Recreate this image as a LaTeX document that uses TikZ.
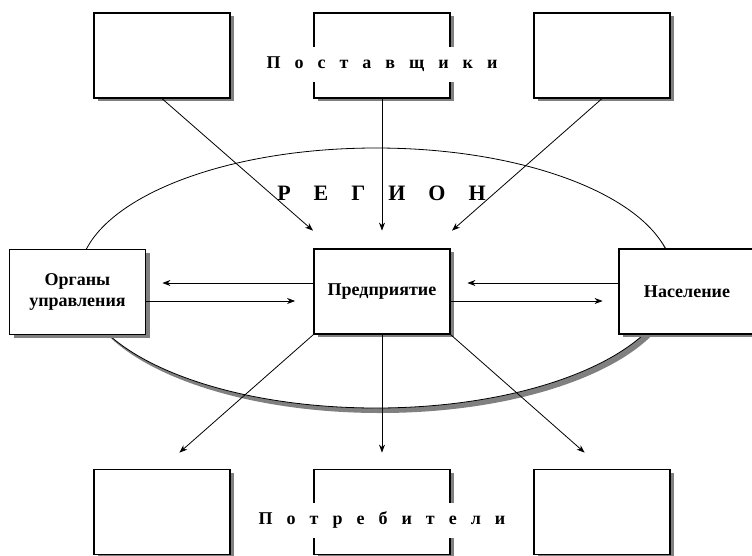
\documentclass[tikz,border=0pt]{standalone}
\usepackage{fontspec}
\setmainfont{Liberation Serif}
\usetikzlibrary{shadows,arrows.meta}

\newcommand{\regionfont}{\fontsize{22}{24}\selectfont\bfseries\spaceskip 23pt\relax}
\newcommand{\rowfont}{\fontsize{18}{20}\selectfont\bfseries\spaceskip 14pt\relax}

\tikzset{
  unitbox/.style={draw, line width=1.2pt, fill=white, minimum width=136pt, minimum height=85pt,
    inner sep=0pt, align=center, font=\fontsize{18}{21}\selectfont\bfseries,
    drop shadow={shadow xshift=4pt, shadow yshift=-3pt, opacity=1, fill=black!50}},
  link/.style={-{Stealth[length=8pt,width=6pt,inset=2.5pt]}, line width=0.8pt},
  spaced/.style={fill=white, inner xsep=3pt, inner ysep=0pt, minimum height=35pt, font=\rowfont}
}

\begin{document}
\begin{tikzpicture}[x=1pt,y=-1pt]
\useasboundingbox (0,0) rectangle (752,555);
% region
\draw[line width=0.8pt, fill=white, drop shadow={shadow xshift=4pt, shadow yshift=-5pt, opacity=1, fill=black!50}]
  (376,278) ellipse [x radius=297pt, y radius=130pt];
\node[font=\regionfont] (reg) at (381.5,193) {Р Е Г И О Н};

% suppliers
\node[unitbox] (sup1) at (162,55.5) {};
\node[unitbox] (sup2) at (382,55.5) {};
\node[unitbox] (sup3) at (602,55.5) {};

% middle row
\node[unitbox] (gov) at (77.5,292) {Органы\\управления};
\node[unitbox] (ent) at (382,291.5) {Предприятие};
\node[unitbox] (pop) at (687,291.5) {Население};

% consumers
\node[unitbox] (con1) at (162,512) {};
\node[unitbox] (con2) at (382,512) {};
\node[unitbox] (con3) at (602,512) {};

\draw[link] (sup1.south) -- ++(151,132);
\draw[link] (sup2.south) -- ++(0,132);
\draw[link] (sup3.south) -- ++(-150,132);

\draw[link] ([yshift=8.5pt]ent.west) -- ++(-151,0);
\draw[link] ([yshift=-9pt]gov.east) -- ++(149,0);
\draw[link] ([yshift=8.5pt]pop.west) -- ++(-151,0);
\draw[link] ([yshift=-9.5pt]ent.east) -- ++(152,0);

\draw[link] (ent.south west) -- ++(-134,118);
\draw[link] (ent.south) -- ++(0,118);
\draw[link] (ent.south east) -- ++(134,118);

\node[spaced] (supl) at (382,64.5) {П о с т а в щ и к и};
\node[spaced] (conl) at (382,520) {П о т р е б и т е л и};
\end{tikzpicture}
\end{document}
